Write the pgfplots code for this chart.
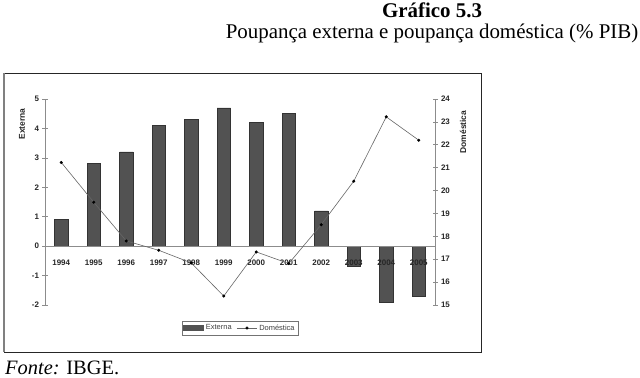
\documentclass[border=0pt]{standalone}
\usepackage{pgfplots}
\pgfplotsset{compat=1.18}
\usepackage{fontspec}
\setmainfont{Liberation Serif}
\newfontfamily\arial{Liberation Sans}
\definecolor{barfill}{gray}{0.32}
\definecolor{bardraw}{gray}{0.2}
\definecolor{axgray}{gray}{0.55}
\pgfplotsset{
  common/.style={
    at={(45bp,73bp)}, anchor=south west, scale only axis,
    width=390bp, height=206bp,
    xmin=-0.5, xmax=11.5,
    tick label style={font=\arial\bfseries\fontsize{8}{9}\selectfont, text=black!85},
    tick align=center, major tick length=5bp, minor tick length=5bp,
    every tick/.style={axgray, line width=0.6bp},
    axis line style={axgray, line width=0.6bp},
  }
}
\begin{document}
\begin{tikzpicture}
\path[use as bounding box] (0bp,0bp) rectangle (640bp,378bp);
\draw[black!85, line width=0.9bp] (4bp,305bp) rectangle (481bp,26bp);
\draw[black!50, line width=2bp] (4bp,305bp)--(4bp,26bp);
\node[anchor=base, font=\fontsize{21}{24}\selectfont\bfseries] at (432bp,360bp) {Gráfico 5.3};
\node[anchor=base, font=\fontsize{21}{24}\selectfont] at (432bp,339bp) {Poupança externa e poupança doméstica (\% PIB)};
\node[anchor=base west, inner sep=0pt, font=\fontsize{20.5}{24}\selectfont] at (5bp,4bp) {\textit{Fonte:} IBGE.};

\begin{axis}[common,
  ymin=-2, ymax=5,
  axis y line*=left, axis x line*=middle,
  axis on top,
  ytick={-2,-1,0,1,2,3,4,5},
  yticklabels={-2,-1,0,1,2,3,4,5},
  xtick={0,1,2,3,4,5,6,7,8,9,10,11},
  xticklabels={1994,1995,1996,1997,1998,1999,2000,2001,2002,2003,2004,2005},
  xtick style={draw=none},
  minor xtick={0.5,1.5,2.5,3.5,4.5,5.5,6.5,7.5,8.5,9.5,10.5},
  xticklabel style={yshift=-5bp},
  ybar, bar width=13.5bp,
]
\addplot[fill=barfill, draw=bardraw, line width=0.5bp] coordinates {
 (0,0.9) (1,2.8) (2,3.2) (3,4.1) (4,4.3) (5,4.7) (6,4.2) (7,4.5) (8,1.2) (9,-0.7) (10,-1.9) (11,-1.7)};
\end{axis}

\begin{axis}[common,
  ymin=15, ymax=24,
  axis y line*=right, axis x line=none,
  ytick={15,16,17,18,19,20,21,22,23,24},
  yticklabels={15,16,17,18,19,20,21,22,23,24},
  legend columns=2,
  legend style={at={(0.5,-0.112)}, anchor=center, draw=black!55, line width=0.5bp,
    font=\arial\fontsize{7.5}{8}\selectfont, text=black!75, inner sep=1.5pt,
    /tikz/every even column/.append style={column sep=3bp}},
  legend image code/.code={},
]
\addlegendimage{legend image code/.code={\fill[barfill] (0bp,-2.5bp) rectangle (20bp,2.5bp);}}
\addlegendentry{Externa}
\addlegendimage{legend image code/.code={\draw[black!60, line width=0.6bp] (0bp,0bp)--(20bp,0bp); \fill[black] (10bp,0bp) circle (1.3bp);}}
\addlegendentry{Doméstica}
\addplot[black!60, line width=0.6bp, mark=*, mark size=1.2bp, mark options={fill=black, draw=black}, forget plot] coordinates {
 (0,21.23) (1,19.49) (2,17.8) (3,17.39) (4,16.84) (5,15.39) (6,17.32) (7,16.81) (8,18.51) (9,20.41) (10,23.22) (11,22.2)};
\end{axis}

\node[rotate=90, font=\arial\bfseries\fontsize{8.5}{9}\selectfont, text=black!85] at (22bp,254bp) {Externa};
\node[rotate=90, font=\arial\bfseries\fontsize{8.5}{9}\selectfont, text=black!85] at (463bp,246bp) {Doméstica};
\end{tikzpicture}
\end{document}
